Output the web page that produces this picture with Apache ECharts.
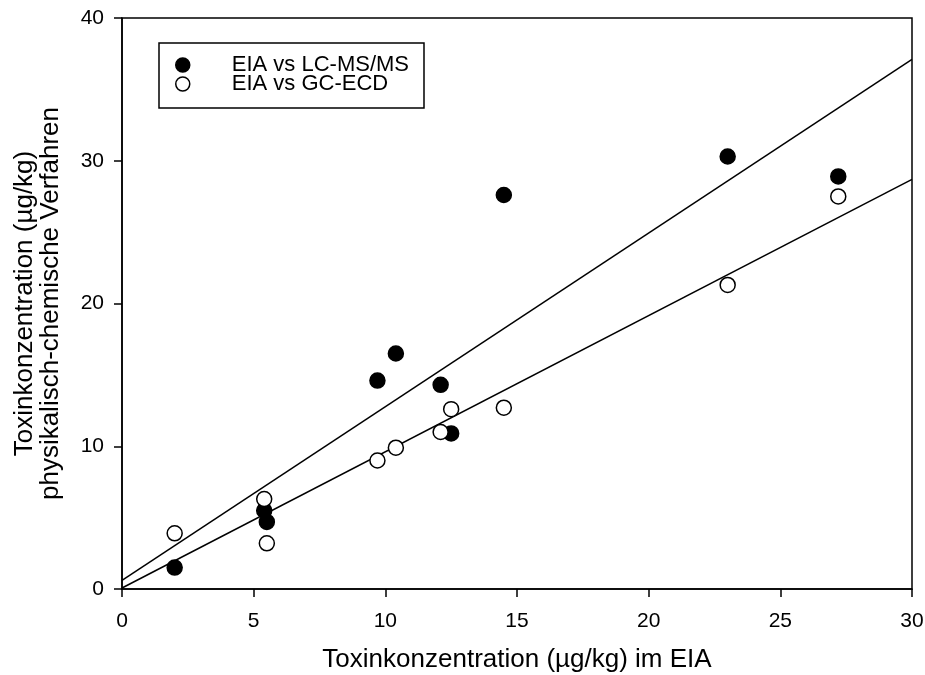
<!DOCTYPE html>
<html>
<head>
<meta charset="utf-8">
<script src="https://cdn.jsdelivr.net/npm/echarts@6/dist/echarts.min.js"></script>
<style>
  html, body { margin: 0; padding: 0; background: #fff; }
  #chart { width: 925px; height: 675px; }
</style>
</head>
<body>
<div id="chart"></div>
<script>
// EIA results (µg/kg) and the matching reference-method results
const eiaValues   = [2.0, 5.4, 5.5, 9.7, 10.4, 12.1, 12.5, 14.5, 23.0, 27.2];
const lcmsValues  = [1.5, 5.5, 4.7, 14.6, 16.5, 14.3, 10.9, 27.6, 30.3, 28.9];
const gcecdValues = [3.9, 6.3, 3.2, 9.0, 9.9, 11.0, 12.6, 12.7, 21.3, 27.5];
const seriesNames = ['EIA vs LC-MS/MS', 'EIA vs GC-ECD'];
const xTicks = [0, 5, 10, 15, 20, 25, 30];
const yTicks = [0, 10, 20, 30, 40];

const FONT = '"Liberation Sans", Arial, sans-serif';

function pairs(xs, ys) { return xs.map((x, i) => [x, ys[i]]); }

// ordinary least-squares fit, drawn across the full x range
function fitLine(xs, ys, x0, x1) {
  const n = xs.length;
  const mx = xs.reduce((a, b) => a + b, 0) / n;
  const my = ys.reduce((a, b) => a + b, 0) / n;
  let sxy = 0, sxx = 0;
  for (let i = 0; i < n; i++) {
    sxy += (xs[i] - mx) * (ys[i] - my);
    sxx += (xs[i] - mx) * (xs[i] - mx);
  }
  const m = sxy / sxx, b = my - m * mx;
  return [[x0, m * x0 + b], [x1, m * x1 + b]];
}

const xMin = xTicks[0], xMax = xTicks[xTicks.length - 1];
const yMin = yTicks[0], yMax = yTicks[yTicks.length - 1];

const chart = echarts.init(document.getElementById('chart'), null, { renderer: 'canvas' });

const axisCommon = {
  axisLine: { show: true, onZero: false, lineStyle: { color: '#000', width: 1.5 } },
  axisTick: { show: true, inside: false, length: 8, lineStyle: { color: '#000', width: 1.5 } },
  splitLine: { show: false },
  nameLocation: 'middle'
};

chart.setOption({
  animation: false,
  backgroundColor: '#fff',
  grid: {
    left: 122, top: 18, right: 13, bottom: 86,
    containLabel: false, outerBoundsMode: 'none',
    show: true, borderColor: '#000', borderWidth: 1.5, backgroundColor: 'transparent'
  },
  legend: {
    orient: 'vertical',
    left: 159, top: 43,
    data: [
      { name: seriesNames[0], icon: 'circle', itemStyle: { color: '#000', borderColor: '#000', borderWidth: 1.5 } },
      { name: seriesNames[1], icon: 'circle', itemStyle: { color: '#fff', borderColor: '#000', borderWidth: 1.5 } }
    ],
    itemWidth: 14, itemHeight: 14, itemGap: -3,
    padding: [11, 15, 13, 16],
    borderColor: '#000', borderWidth: 1.5, borderRadius: 0,
    backgroundColor: '#fff',
    selectedMode: false,
    textStyle: { color: '#000', fontFamily: FONT, fontSize: 22, padding: [0, 0, 0, 37] }
  },
  xAxis: Object.assign({}, axisCommon, {
    type: 'value', min: xMin, max: xMax, interval: 5,
    name: 'Toxinkonzentration (µg/kg) im EIA',
    nameGap: 58,
    nameTextStyle: { color: '#000', fontFamily: FONT, fontSize: 26 },
    axisLabel: { color: '#000', fontFamily: FONT, fontSize: 21, margin: 22 }
  }),
  yAxis: Object.assign({}, axisCommon, {
    type: 'value', min: yMin, max: yMax, interval: 10,
    name: 'Toxinkonzentration (µg/kg)\nphysikalisch-chemische Verfahren',
    nameGap: 58,
    nameTextStyle: { color: '#000', fontFamily: FONT, fontSize: 26, lineHeight: 26 },
    axisLabel: { color: '#000', fontFamily: FONT, fontSize: 21, margin: 18 }
  }),
  series: [
    {
      name: seriesNames[0] + ' fit', type: 'line', symbol: 'none', silent: true, z: 2,
      data: fitLine(eiaValues, lcmsValues, xMin, xMax),
      lineStyle: { color: '#000', width: 1.5 }
    },
    {
      name: seriesNames[1] + ' fit', type: 'line', symbol: 'none', silent: true, z: 2,
      data: fitLine(eiaValues, gcecdValues, xMin, xMax),
      lineStyle: { color: '#000', width: 1.5 }
    },
    {
      name: seriesNames[0], type: 'scatter', symbol: 'circle', symbolSize: 15, z: 3,
      data: pairs(eiaValues, lcmsValues),
      itemStyle: { color: '#000', borderColor: '#000', borderWidth: 1.5, opacity: 1 }
    },
    {
      name: seriesNames[1], type: 'scatter', symbol: 'circle', symbolSize: 15, z: 3,
      data: pairs(eiaValues, gcecdValues),
      itemStyle: { color: '#fff', borderColor: '#000', borderWidth: 1.5, opacity: 1 }
    }
  ]
});
</script>
</body>
</html>
